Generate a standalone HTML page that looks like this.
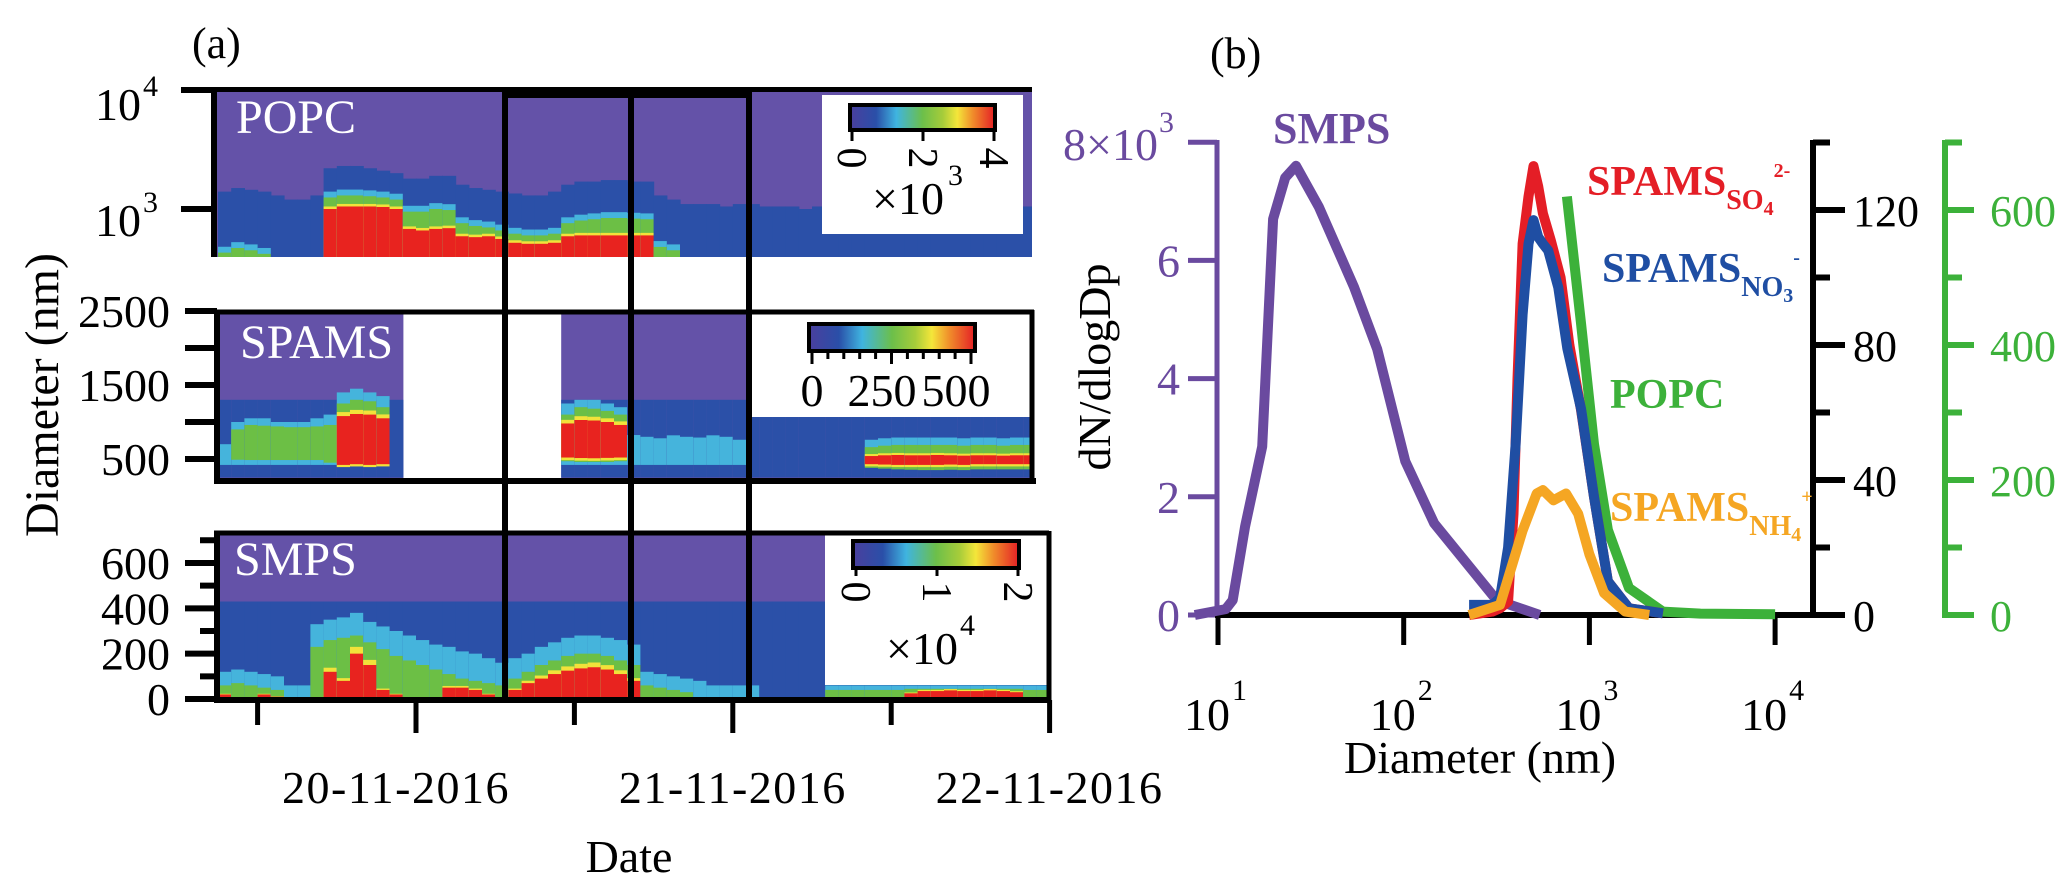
<!DOCTYPE html>
<html><head><meta charset="utf-8"><style>
html,body{margin:0;padding:0;background:#fff;}
svg{display:block;font-family:"Liberation Serif",serif;}
</style></head><body>
<svg id="fig" width="2067" height="891" viewBox="0 0 2067 891" xmlns="http://www.w3.org/2000/svg">
<defs>
<linearGradient id="cmap" x1="0" x2="1" y1="0" y2="0">
<stop offset="0" stop-color="#4a3f9e"/><stop offset="0.18" stop-color="#2a4fa8"/><stop offset="0.32" stop-color="#3fb4e0"/><stop offset="0.5" stop-color="#6cbf4a"/><stop offset="0.64" stop-color="#a6cc3a"/><stop offset="0.74" stop-color="#f4e63a"/><stop offset="0.85" stop-color="#f08a2a"/><stop offset="1" stop-color="#e41e26"/>
</linearGradient>
<clipPath id="clipPopc"><rect x="216" y="90" width="816" height="167"/></clipPath>
<clipPath id="clipSpams"><rect x="216" y="312" width="818" height="168"/></clipPath>
<clipPath id="clipSmps"><rect x="216" y="533" width="833" height="166"/></clipPath>
</defs>
<g id="heat"></g>
<g id="overlay"></g>
<g id="pb"></g>
</svg>
<script>
// ---------- Panel (a) data: hourly columns from -15 h to 47 h relative to 20-11-2016 00:00 ----------
const hours = [];
for (let h = -15; h <= 47; h++) hours.push(h);
// POPC boundary diameters (nm) per column
const popcRed =   [0,0,0,0,0, 0,0,0, 1000,1050,1050,1050,1040,1000, 680,660,680,690, 590,580,590,560,520, 510,510,520, 590,600,600,600,600,600,600, 0,0,0, 0,0,0,0,0,0,0,0,0,0,0,0,0,0,0,0,0,0,0,0,0,0,0,0,0,0,0];
const popcGreen = [430,470,450,420,0, 0,0,0, 1250,1300,1300,1280,1250,1200, 950,950,1000,980, 760,720,700,660,620, 600,600,620, 760,800,820,840,840,830,820, 480,450,0, 0,0,0,0,0,0,0,0,0,0,0,0,0,0,0,0,0,0,0,0,0,0,0,0,0,0,0];
const popcBlue =  [1400,1500,1450,1400,1300, 1200,1200,1300, 2200,2300,2300,2200,2100,2000, 1800,1800,1900,1900, 1600,1500,1450,1400,1350, 1300,1300,1400, 1600,1700,1700,1750,1750,1700,1700, 1300,1200,1100, 1100,1100,1050,1100,1100,1050,1050,1050,1000,1050,1050,1050,1050,1000,1050,1050,1050,1050,1050,1050,1050,1050,1050,1050,1050,1050,1050];
// SPAMS (nm): null = no data
const spamsRedLo = [0,0,0,0,0,0,0,0,0,420,430,420,430,0, null,null,null,null,null,null,null,null,null,null,null,null, 520,513,510,515,520, 0,0,0,0,0,0,0,0,0,0,0,0,0,0,0,0,0,0, 430,425,420,420,420,420,425,420,430,430,430,430,430,430];
const spamsRedHi = [0,0,0,0,0,0,0,0,0,1080,1108,1100,1050,0, null,null,null,null,null,null,null,null,null,null,null,null, 980,1027,1020,1000,960, 0,0,0,0,0,0,0,0,0,0,0,0,0,0,0,0,0,0, 540,550,554,550,550,554,550,545,550,550,545,550,550,540];
const spamsGreenLo=[0,490,486,486,486,486,486,486,450,400,400,400,420,0, null,null,null,null,null,null,null,null,null,null,null,null, 470,460,460,460,470, 0,0,0,0,0,0,0,0,0,0,0,0,0,0,0,0,0,0, 380,370,360,355,350,350,355,350,360,360,360,360,360,360];
const spamsGreenHi=[0,900,960,950,940,930,930,940,960,1250,1300,1280,1200,0, null,null,null,null,null,null,null,null,null,null,null,null, 1100,1200,1180,1150,1100, 0,0,0,0,0,0,0,0,0,0,0,0,0,0,0,0,0,0, 660,680,690,690,690,690,690,680,690,690,680,690,690,680];
const spamsCyanHi= [700,1000,1050,1050,1000,1000,1000,1050,1100,1400,1450,1400,1350,0, null,null,null,null,null,null,null,null,null,null,null,null, 1250,1300,1300,1250,1200, 824,800,780,820,800,790,820,800,760,0,0,0,0,0,0,0,0,0, 760,780,790,790,790,790,790,780,790,790,780,790,790,780];
// SMPS (nm)
const smpsCyan = [120,130,120,110,100, 60,60, 330,350,360,380,340,320,300,280,260,240,230,210,200,180,160, 180,200,230,250,270,280,280,270,260,240, 120,110,100,90,80,60,60,60,60, 0,0,0,0,0, 60,60,60,60,60,60,60,60,60,60,60,60,60,60,60,60,60];
const smpsGreen= [60,70,60,50,40, 0,0, 230,260,270,280,250,220,190,170,150,130,110,90,80,70,60, 90,120,150,170,190,200,200,190,170,150, 60,50,40,30,0,0,0,0,0, 0,0,0,0,0, 40,40,40,40,40,40,45,45,45,45,45,45,45,45,45,40,40];
const smpsRed  = [20,0,0,20,10, 0,0, 0,120,80,200,150,40,20,0,0,0,50,50,40,20,0, 40,70,90,110,125,135,140,130,110,80, 0,0,0,0,0,0,0,0,0, 0,0,0,0,0, 0,0,0,0,0,0,25,35,35,38,35,35,38,35,30,0,0];

// ---------- Panel (b) data ----------
const smpsD = [7.5,11,12,14,17.3,19.8,23,26.3,35,54,72,102,146,317,540];
const smpsV = [0,0.1,0.25,1.5,2.85,6.7,7.4,7.6,6.9,5.55,4.5,2.6,1.55,0.25,0];
const so4D = [225,300,330,365,390,410,437,470,500,530,562,620,700,780,900,1059,1258,1634,2488];
const so4V = [0,1,2,4,30,70,110,124,133,127,119,111,100,80,61,35,10,2,0.5];
const no3D = [225,300,330,365,400,437,470,500,530,562,600,680,760,902,1059,1258,1634,2488];
const no3V = [3,3,5,20,50,89,110,117,112,110,108,97,79,61,35,10,2,0.5];
const nh4D = [225,330,437,520,562,640,748,870,1000,1200,1560,2100];
const nh4V = [0,3,25,36,37,34,36,30,18,6.5,1,0];
const popcD = [757,902,1059,1258,1634,2488,3960,10000];
const popcV = [620,431,253,126,40,5,2,1];
const xTickExp = [1,2,3,4];
const leftTicks = [0,2,4,6];
const midTicks = [0,40,80,120];
const rightTicks = [0,200,400,600];
const dateLabels = ["20-11-2016","21-11-2016","22-11-2016"];
const dateTickHours = [-12,0,12,24,36,48];

const NS = "http://www.w3.org/2000/svg";
function el(tag, attrs, parent, text) {
  const e = document.createElementNS(NS, tag);
  for (const k in attrs) e.setAttribute(k, attrs[k]);
  if (text !== undefined) e.textContent = text;
  parent.appendChild(e);
  return e;
}
const heat = document.getElementById('heat');
const ov = document.getElementById('overlay');
const pb = document.getElementById('pb');

const xh = h => 416 + 13.2 * h;
const yP = d => 209 - 119 * (Math.log10(d) - 3);
const yS = d => 459 - (d - 500) * 0.074;
const yM = d => 699 - d * 0.2267;

const PURPLE = "#6452a8", BLUE = "#2b50a8", CYAN = "#45b4dc", GREEN = "#6cbf45", YEL = "#f2e23a", RED = "#e8231f";

function band(g, x, w, yTop, yBot, color, name) {
  if (yBot - yTop <= 0) return;
  const r = el('rect', {x: x, y: yTop, width: w + 0.6, height: yBot - yTop, fill: color}, g);
  
  
}

const gP = el('g', {'clip-path': 'url(#clipPopc)'}, heat);


el('rect', {x: 216, y: 90, width: 816, height: 167, fill: PURPLE}, gP);
hours.forEach((h, i) => {
  const x = xh(h), w = 13.2, bot = 257;
  if (popcBlue[i]) band(gP, x, w, yP(popcBlue[i]), bot, BLUE, 'popc-cell');
  if (popcGreen[i]) {
    band(gP, x, w, yP(popcGreen[i] * 1.12), bot, CYAN, 'popc-cell');
    band(gP, x, w, yP(popcGreen[i]), bot, GREEN, 'popc-cell');
  }
  if (popcRed[i]) {
    band(gP, x, w, yP(popcRed[i] * 1.05), bot, YEL, 'popc-cell');
    band(gP, x, w, yP(popcRed[i]), bot, RED, 'popc-cell');
  }
});

const gS = el('g', {'clip-path': 'url(#clipSpams)'}, heat);


hours.forEach((h, i) => {
  const x = xh(h), w = 13.2;
  if (spamsRedLo[i] === null) return;
  band(gS, x, w, 312, 481, PURPLE, 'spams-cell');
  band(gS, x, w, yS(1300), yS(250), BLUE, 'spams-cell');
  if (spamsCyanHi[i]) band(gS, x, w, yS(spamsCyanHi[i]), yS(420), CYAN, 'spams-cell');
  if (spamsGreenHi[i]) band(gS, x, w, yS(spamsGreenHi[i]), yS(spamsGreenLo[i]), GREEN, 'spams-cell');
  if (spamsRedHi[i]) {
    band(gS, x, w, yS(spamsRedHi[i] * 1.05), yS(spamsRedLo[i] * 0.93), YEL, 'spams-cell');
    band(gS, x, w, yS(spamsRedHi[i]), yS(spamsRedLo[i]), RED, 'spams-cell');
  }
});

const gM = el('g', {'clip-path': 'url(#clipSmps)'}, heat);


el('rect', {x: 216, y: 533, width: 833, height: 166, fill: PURPLE}, gM);
hours.forEach((h, i) => {
  const x = xh(h), w = 13.2, bot = 699;
  band(gM, x, w, yM(430), bot, BLUE, 'smps-cell');
  if (smpsCyan[i]) band(gM, x, w, yM(smpsCyan[i]), bot, CYAN, 'smps-cell');
  if (smpsGreen[i]) band(gM, x, w, yM(smpsGreen[i]), bot, GREEN, 'smps-cell');
  if (smpsRed[i]) {
    band(gM, x, w, yM(smpsRed[i] * 1.15), bot, YEL, 'smps-cell');
    band(gM, x, w, yM(smpsRed[i]), bot, RED, 'smps-cell');
  }
});
</script>
<script>
(function(){
  const T = (x, y, s, size, attrs, name) => {
    const t = el('text', Object.assign({x: x, y: y, 'font-size': size, fill: '#000'}, attrs || {}), ov, s);
    
    
    return t;
  };
  const L = (x1, y1, x2, y2, w, name, c) => {
    const l = el('line', {x1: x1, y1: y1, x2: x2, y2: y2, stroke: c || '#000', 'stroke-width': w}, ov);
    
    
  };
  const W = (x, y, w, h, name) => { const r = el('rect', {x: x, y: y, width: w, height: h, fill: '#fff'}, ov);   };
  W(822, 95, 201, 139, 'popc-colorbar-box');
  W(749, 312, 284, 105, 'spams-colorbar-box');
  W(825, 532, 224, 153, 'smps-colorbar-box');

  T(192, 58, '(a)', 44, {}, 'panel-a-label');
  L(214, 88, 214, 257, 6, 'popc-y-axis');
  L(212, 89.5, 1032, 89.5, 5, 'popc-top-border');
  L(505, 93, 749, 93, 10, 'popc-top-bar');
  L(181, 90, 214, 90, 6, 'popc-tick-10k');
  L(181, 209, 214, 209, 6, 'popc-tick-1k');
  T(141, 120, '10', 46, {'text-anchor': 'end'}, 'popc-tick-label-10k');
  T(143, 96, '4', 30, {}, 'popc-tick-exp-10k');
  T(141, 236, '10', 46, {'text-anchor': 'end'}, 'popc-tick-label-1k');
  T(143, 212, '3', 30, {}, 'popc-tick-exp-1k');
  T(236, 133, 'POPC', 48, {fill: '#fff'}, 'popc-panel-title');

  L(217, 310, 217, 483, 6, 'spams-y-axis');
  L(214, 312, 1034, 312, 5, 'spams-top-border');
  L(214, 481, 1036, 481, 6, 'spams-bottom-border');
  L(1032, 310, 1032, 483, 5, 'spams-right-border');
  [2500,2000,1500,1000,500].forEach(v => { L(185, yS(v), 217, yS(v), 6, 'spams-tick'); });
  [2500,1500,500].forEach(v => T(170, yS(v) + 16, String(v), 46, {'text-anchor': 'end'}, 'spams-tick-label'));
  T(240, 358, 'SPAMS', 48, {fill: '#fff'}, 'spams-panel-title');

  L(217, 531, 217, 702, 6, 'smps-y-axis');
  L(214, 533, 1049, 533, 5, 'smps-top-border');
  L(214, 700, 1051, 700, 6, 'smps-bottom-axis');
  L(1049, 531, 1049, 702, 5, 'smps-right-border');
  [0,200,400,600].forEach(v => { L(185, yM(v), 217, yM(v), 6, 'smps-tick'); T(170, yM(v) + 16, String(v), 46, {'text-anchor': 'end'}, 'smps-tick-label'); });
  [100,300,500,700].forEach(v => L(200, yM(v), 217, yM(v), 6, 'smps-minor-tick'));
  T(234, 575, 'SMPS', 48, {fill: '#fff'}, 'smps-panel-title');
  dateTickHours.forEach((h, i) => L(xh(h), 700, xh(h), i % 2 ? 733 : 725, 5, 'date-tick'));
  [0,24,48].forEach((h, i) => T(xh(h) - 20 + (i === 0 ? 0 : 20), 803, dateLabels[i], 46, {'text-anchor': 'middle', 'letter-spacing': '1.5'}, 'date-tick-label'));
  T(629, 872, 'Date', 46, {'text-anchor': 'middle'}, 'x-axis-title-date');
  T(0, 0, 'Diameter (nm)', 48, {'text-anchor': 'middle', transform: 'translate(58,395) rotate(-90)'}, 'y-axis-title-diameter');

  [505, 631, 749].forEach(x => L(x, 88, x, 700, 6, 'period-divider'));

  const cb = (x, y, w, h, name) => { const r = el('rect', {x: x, y: y, width: w, height: h, fill: 'url(#cmap)', stroke: '#000', 'stroke-width': 4}, ov);   };
  cb(850, 105, 145, 25, 'popc-colorbar');
  [0,2,4].forEach((v, i) => { const x = 852 + i * 71; L(x, 130, x, 141, 3, 'popc-colorbar-tick'); T(0, 0, String(v), 42, {'text-anchor': 'middle', transform: `translate(${x - 14},158) rotate(90)`}, 'popc-colorbar-label'); });
  T(872, 214, '×10', 46, {}, 'popc-colorbar-multiplier');
  T(948, 185, '3', 30, {}, 'popc-colorbar-exp');

  cb(809, 324, 166, 27, 'spams-colorbar');
  for (let i = 0; i <= 10; i++) { const x = 812 + i * 15.9; L(x, 351, x, i % 5 === 0 ? 364 : 359, 3, 'spams-colorbar-tick'); }
  T(812, 406, '0', 46, {'text-anchor': 'middle'}, 'spams-colorbar-label');
  T(882, 406, '250', 46, {'text-anchor': 'middle'}, 'spams-colorbar-label');
  T(956, 406, '500', 46, {'text-anchor': 'middle'}, 'spams-colorbar-label');

  cb(853, 541, 166, 27, 'smps-colorbar');
  [0,1,2].forEach((v, i) => { const x = 856 + i * 81; L(x, 568, x, 576, 3, 'smps-colorbar-tick'); T(0, 0, String(v), 42, {'text-anchor': 'middle', transform: `translate(${x - 14},592) rotate(90)`}, 'smps-colorbar-label'); });
  T(886, 664, '×10', 46, {}, 'smps-colorbar-multiplier');
  T(960, 635, '4', 30, {}, 'smps-colorbar-exp');
})();

(function(){
  const xL = d => 1218 + 185.7 * (Math.log10(d) - 1);
  const yLeft = v => 615 - v * 59.1;
  const yMid = v => 615 - v * 3.375;
  const yRight = v => 615 - v * 0.675;
  const T = (x, y, s, size, attrs, name) => {
    const t = el('text', Object.assign({x: x, y: y, 'font-size': size, fill: '#000'}, attrs || {}), pb, s);
    
    
    return t;
  };
  const L = (x1, y1, x2, y2, w, c, name) => {
    const l = el('line', {x1: x1, y1: y1, x2: x2, y2: y2, stroke: c, 'stroke-width': w}, pb);
    
    
  };
  const PU = '#6a4a9f', BK = '#000', GR = '#3cb13a';
  T(1210, 68, '(b)', 44, {}, 'panel-b-label');

  L(1217, 140, 1217, 617, 5, PU, 'left-y-axis');
  [0,2,4,6,8].forEach(v => L(1188, yLeft(v), 1217, yLeft(v), 5, PU, 'left-y-tick'));
  leftTicks.forEach(v => T(1180, yLeft(v) + 16, String(v), 46, {'text-anchor': 'end', fill: PU}, 'left-y-tick-label'));
  T(1158, yLeft(8) + 18, '8×10', 46, {'text-anchor': 'end', fill: PU}, 'left-y-tick-label-max');
  T(1159, yLeft(8) - 10, '3', 30, {fill: PU}, 'left-y-tick-exp');
  T(0, 0, 'dN/dlogDp', 46, {'text-anchor': 'middle', transform: 'translate(1110,367) rotate(-90)'}, 'left-y-axis-title');

  L(1215, 615, 1836, 615, 6, BK, 'x-axis-line');
  xTickExp.forEach(e => {
    const x = xL(Math.pow(10, e));
    L(x, 615, x, 645, 5, BK, 'x-tick');
    T(x + 12, 730, '10', 46, {'text-anchor': 'end'}, 'x-tick-label');
    T(x + 14, 700, String(e), 30, {}, 'x-tick-exp');
  });
  T(1480, 773, 'Diameter (nm)', 46, {'text-anchor': 'middle'}, 'x-axis-title');

  L(1813, 140, 1813, 618, 6, BK, 'mid-y-axis');
  [0,20,40,60,80,100,120,140].forEach((v, i) => L(1813, yMid(v), i % 2 ? 1830 : 1845, yMid(v), 6, BK, 'mid-y-tick'));
  midTicks.forEach(v => T(1853, yMid(v) + 16, String(v), 44, {}, 'mid-y-tick-label'));

  L(1945, 140, 1945, 618, 6, GR, 'right-y-axis');
  [0,100,200,300,400,500,600,700].forEach((v, i) => L(1945, yRight(v), i % 2 ? 1962 : 1974, yRight(v), 6, GR, 'right-y-tick'));
  rightTicks.forEach(v => T(1990, yRight(v) + 16, String(v), 44, {fill: GR}, 'right-y-tick-label'));

  const line = (D, V, ys, color, name) => {
    const pts = D.map((d, i) => xL(d).toFixed(1) + ',' + ys(V[i]).toFixed(1)).join(' ');
    const p = el('polyline', {points: pts, fill: 'none', stroke: color, 'stroke-width': 10, 'stroke-linejoin': 'round'}, pb);
    
    
  };
  line(smpsD, smpsV, yLeft, PU, 'smps-series');
  line(popcD, popcV, yRight, GR, 'popc-series');
  line(so4D, so4V, yMid, '#e41e26', 'spams-so4-series');
  line(no3D, no3V, yMid, '#1f4ea3', 'spams-no3-series');
  line(nh4D, nh4V, yMid, '#f5a623', 'spams-nh4-series');

  T(1273, 143, 'SMPS', 44, {fill: PU, 'font-weight': 'bold'}, 'smps-series-label');
  const lab = (x, y, main, sub, sup, color, name) => {
    const t = el('text', {x: x, y: y, 'font-size': 42, 'font-weight': 'bold', fill: color}, pb);
    
    
    el('tspan', {}, t, main);
    el('tspan', {dy: 14, 'font-size': 28}, t, sub.slice(0, -1));
    el('tspan', {dy: 6, 'font-size': 20}, t, sub.slice(-1));
    el('tspan', {dy: -38, 'font-size': 20}, t, sup);
  };
  lab(1587, 195, 'SPAMS', 'SO4', '2-', '#e41e26', 'spams-so4-label');
  lab(1602, 282, 'SPAMS', 'NO3', '-', '#1f4ea3', 'spams-no3-label');
  T(1610, 408, 'POPC', 42, {fill: GR, 'font-weight': 'bold'}, 'popc-series-label');
  lab(1610, 521, 'SPAMS', 'NH4', '+', '#f5a623', 'spams-nh4-label');
})();
</script>
</body></html>
